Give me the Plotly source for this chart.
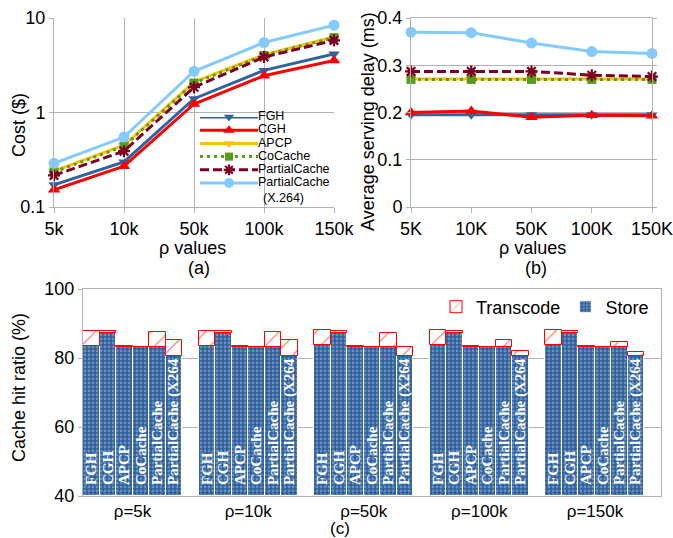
import plotly.graph_objects as go

W, H = 673, 538

# ---------------- data ----------------
methods = ["FGH", "CGH", "APCP", "CoCache", "PartialCache", "PartialCache (X.264)"]
bar_labels = ["FGH", "CGH", "APCP", "CoCache", "PartialCache", "PartialCache (X264"]
rho_cost = ["5k", "10k", "50k", "100k", "150k"]
rho_delay = ["5K", "10K", "50K", "100K", "150K"]
rho_groups = ["ρ=5k", "ρ=10k", "ρ=50k", "ρ=100k", "ρ=150k"]

cost_fgh = [0.172, 0.30, 1.40, 2.79, 4.16]
cost_cgh = [0.152, 0.27, 1.23, 2.45, 3.56]
cost_apcp = [0.240, 0.45, 2.10, 4.10, 6.30]
cost_cocache = [0.235, 0.44, 2.05, 4.02, 6.20]
cost_partial = [0.216, 0.39, 1.85, 3.86, 5.80]
cost_partial_x264 = [0.290, 0.55, 2.73, 5.50, 8.40]

delay_fgh = [0.195, 0.195, 0.195, 0.195, 0.195]
delay_cgh = [0.200, 0.203, 0.190, 0.194, 0.193]
delay_apcp = [0.271, 0.271, 0.271, 0.271, 0.271]
delay_cocache = [0.270, 0.270, 0.270, 0.270, 0.270]
delay_partial = [0.287, 0.287, 0.287, 0.279, 0.276]
delay_partial_x264 = [0.370, 0.369, 0.347, 0.329, 0.325]

store_fgh = [83.6, 83.6, 83.8, 83.8, 83.8]
store_cgh = [87.3, 87.3, 87.3, 87.3, 87.3]
store_apcp = [83.2, 83.2, 83.2, 83.2, 83.2]
store_cocache = [83.3, 83.3, 83.3, 83.3, 83.3]
store_partial = [83.2, 83.2, 83.2, 83.2, 83.2]
store_partial_x264 = [80.7, 80.7, 80.7, 80.7, 80.7]

trans_fgh = [4.2, 4.2, 4.3, 4.3, 4.3]
trans_cgh = [0.5, 0.5, 0.5, 0.5, 0.5]
trans_apcp = [0.4, 0.4, 0.4, 0.4, 0.4]
trans_cocache = [0.0, 0.0, 0.0, 0.0, 0.0]
trans_partial = [4.2, 4.2, 4.1, 2.0, 1.5]
trans_partial_x264 = [4.4, 4.5, 2.6, 1.3, 0.95]

hit_axis_min = 40

costs = [cost_fgh, cost_cgh, cost_apcp, cost_cocache, cost_partial, cost_partial_x264]
delays = [delay_fgh, delay_cgh, delay_apcp, delay_cocache, delay_partial, delay_partial_x264]
stores = [store_fgh, store_cgh, store_apcp, store_cocache, store_partial, store_partial_x264]
transes = [trans_fgh, trans_cgh, trans_apcp, trans_cocache, trans_partial, trans_partial_x264]

# ---------------- styles ----------------
colors = ["#2f64a0", "#ff0000", "#ffc000", "#579d1c", "#7e0021", "#83caff"]
dashes = ["solid", "solid", "solid", "3px,4px", "9px,4px", "solid"]
symbols = ["triangle-down", "triangle-up", "triangle-down", "square", "asterisk-open", "circle"]
msizes = [10, 11, 10, 9, 10, 11]

FONT = "Liberation Sans, Arial, sans-serif"
GRID = "#b3b3b3"

def px_x(p):
    return p / W

def px_y(p):
    return 1 - p / H

fig = go.Figure()

def marker_for(i, size=None):
    s = msizes[i] if size is None else size
    if symbols[i] == "asterisk-open":
        return dict(symbol=symbols[i], size=s, color=colors[i],
                    line=dict(color=colors[i], width=2.2))
    return dict(symbol=symbols[i], size=s, color=colors[i], line=dict(width=0))

# panel (a) cost (log)
xi = list(range(len(rho_cost)))
for i, name in enumerate(methods):
    fig.add_trace(go.Scatter(
        x=xi, y=costs[i], mode="lines+markers", name=name, showlegend=False,
        line=dict(color=colors[i], width=3, dash=dashes[i]),
        marker=marker_for(i), cliponaxis=False, xaxis="x", yaxis="y"))

# panel (b) delay
for i, name in enumerate(methods):
    fig.add_trace(go.Scatter(
        x=xi, y=delays[i], mode="lines+markers", name=name, showlegend=False,
        line=dict(color=colors[i], width=3, dash=dashes[i]),
        marker=marker_for(i), cliponaxis=False, xaxis="x2", yaxis="y2"))

# panel (c) stacked bars (Store drawn up from the axis floor, Transcode on top)
ng, nm = len(rho_groups), len(methods)
bx, sy, ty, tx = [], [], [], []
for g in range(ng):
    for i in range(nm):
        bx.append(g * (nm + 1) + i)
        sy.append(stores[i][g])
        ty.append(transes[i][g])
        tx.append("\u00a0\u00a0" + bar_labels[i])

fig.add_trace(go.Bar(
    x=bx, y=[v - hit_axis_min for v in sy], base=hit_axis_min, name="Store", width=1,
    marker=dict(color="#2e5f9c", line=dict(color="#ffffff", width=1),
                pattern=dict(shape=".", fgcolor="#a7c0e0", bgcolor="#2e5f9c",
                             size=4, solidity=0.4)),
    text=tx, textposition="inside", insidetextanchor="start", textangle=-90,
    constraintext="none",
    textfont=dict(family="Liberation Serif, Times New Roman, serif", size=15,
                  color="#ffffff", weight="bold"),
    hoverinfo="skip", xaxis="x3", yaxis="y3"))
fig.add_trace(go.Bar(
    x=bx, y=ty, base=sy, name="Transcode", width=1,
    marker=dict(color="#ffffff", line=dict(color="#ff0000", width=1),
                pattern=dict(shape="/", fgcolor="#ff0000", bgcolor="#ffffff",
                             size=13, solidity=0.1)),
    xaxis="x3", yaxis="y3"))

# legend for (a)/(b) built as an inset key
KEY_TOP, KEY_STEP, KEY_ROWS = 117.0, 13.2, 6.5       # px of first row, px per row, rows span
KEY_BOTTOM = KEY_TOP + KEY_ROWS * KEY_STEP
rows = list(range(nm))
for i, name in enumerate(methods):
    first = name.split(" ")[0]
    fig.add_trace(go.Scatter(
        x=[0, 0.5, 1], y=[rows[i]] * 3, mode="lines+markers+text", showlegend=False,
        line=dict(color=colors[i], width=3, dash=dashes[i]),
        marker=dict(symbol=symbols[i], size=[0, msizes[i] - 1, 0], color=colors[i],
                    opacity=[0, 1, 0],
                    line=dict(color=colors[i], width=2.2 if symbols[i] == "asterisk-open" else 0)),
        text=["", "", first], textposition="middle right",
        textfont=dict(family=FONT, size=12.5, color="#000000"),
        cliponaxis=False, hoverinfo="skip", xaxis="x4", yaxis="y4"))

bar_count = ng * (nm + 1) - 1

axis_font = dict(family=FONT, size=18, color="#000000")

def key_dom_y(p):
    return (KEY_BOTTOM - p) / (KEY_BOTTOM - KEY_TOP)

fig.update_layout(
    width=W, height=H, autosize=False,
    margin=dict(l=0, r=0, t=0, b=0, pad=0, autoexpand=False),
    paper_bgcolor="#ffffff", plot_bgcolor="#ffffff",
    font=dict(family=FONT, color="#000000"),
    barmode="overlay", bargap=0,
    xaxis=dict(domain=[px_x(54), px_x(334)], range=[0, 4], tickvals=xi, ticktext=rho_cost,
               showgrid=True, gridcolor=GRID, gridwidth=1, zeroline=False,
               showline=True, linecolor=GRID, ticks="outside", ticklen=5, tickcolor=GRID,
               tickfont=axis_font, ticklabeloverflow="allow", anchor="y"),
    yaxis=dict(domain=[px_y(207), px_y(18)], type="log", range=[-1, 1],
               tickvals=[0.1, 1, 10], ticktext=["0.1", "1", "10"],
               showgrid=True, gridcolor=GRID, zeroline=False,
               showline=True, linecolor=GRID, ticks="outside", ticklen=4, tickcolor=GRID,
               tickfont=axis_font, anchor="x"),
    xaxis2=dict(domain=[px_x(411), px_x(652)], range=[0, 4], tickvals=xi, ticktext=rho_delay,
                showgrid=False, zeroline=False, showline=True, mirror=True, linecolor=GRID,
                ticks="outside", ticklen=5, tickcolor=GRID, tickfont=axis_font,
                ticklabeloverflow="allow", anchor="y2"),
    yaxis2=dict(domain=[px_y(207), px_y(18)], range=[0, 0.4], dtick=0.1,
                showgrid=True, gridcolor=GRID, zeroline=False, showline=True, mirror="all",
                linecolor=GRID, ticks="outside", ticklen=4, tickcolor=GRID,
                tickfont=axis_font, anchor="x2"),
    xaxis3=dict(domain=[px_x(83), px_x(661)], range=[-0.5, bar_count + 0.5],
                tickvals=[g * (nm + 1) + (nm - 1) / 2 for g in range(ng)], ticktext=rho_groups,
                showgrid=False, zeroline=False, showline=True, mirror=True, linecolor=GRID,
                ticks="", tickfont=dict(family=FONT, size=17, color="#000000"),
                ticklabeloverflow="allow", anchor="y3"),
    yaxis3=dict(domain=[px_y(496), px_y(289)], range=[hit_axis_min, 100], dtick=20,
                showgrid=True, gridcolor=GRID, zeroline=False, showline=True, mirror=True,
                linecolor=GRID, ticks="outside", ticklen=4, tickcolor=GRID,
                tickfont=axis_font, anchor="x3"),
    xaxis4=dict(domain=[px_x(200), px_x(258)], range=[0, 1], visible=False, fixedrange=True,
                anchor="y4"),
    yaxis4=dict(domain=[px_y(KEY_BOTTOM), px_y(KEY_TOP)], range=[KEY_ROWS, 0], visible=False,
                fixedrange=True, anchor="x4"),
    legend=dict(orientation="h", x=px_x(436), xanchor="left", y=px_y(307), yanchor="middle",
                traceorder="reversed", font=dict(family=FONT, size=18, color="#000000"),
                bgcolor="rgba(0,0,0,0)", borderwidth=0),
    shapes=[dict(type="rect", xref="x4 domain", yref="y4 domain",
                 x0=(197 - 200) / 58, x1=(333 - 200) / 58,
                 y0=key_dom_y(205), y1=key_dom_y(114),
                 fillcolor="#ffffff", line=dict(width=0), layer="below")],
)

def ann(text, x, y, size=18, angle=0, xanchor="center", xref="paper", yref="paper"):
    fig.add_annotation(text=text, x=x, y=y, xref=xref, yref=yref, showarrow=False,
                       textangle=angle, xanchor=xanchor, yanchor="middle",
                       font=dict(family=FONT, size=size, color="#000000"))

ann("Cost ($)", px_x(19), px_y(125), angle=-90)
ann("ρ values", px_x(192), px_y(248))
ann("(a)", px_x(199), px_y(268))
ann("Average serving delay (ms)", px_x(368), px_y(121), angle=-90)
ann("ρ values", px_x(532), px_y(248))
ann("(b)", px_x(536), px_y(268))
ann("Cache hit ratio (%)", px_x(19), px_y(388), angle=-90)
ann("(c)", px_x(340), px_y(528), size=17)

# continuation line of the last key label
last = methods[-1].split(" ", 1)
if len(last) > 1:
    fig.add_annotation(text=last[1], x=1, y=(nm - 1) + 1.12, xref="x4", yref="y4",
                       showarrow=False, xanchor="left", yanchor="middle", xshift=3,
                       font=dict(family=FONT, size=12.5, color="#000000"))

fig.write_html(
    "out.html",
    config={"displayModeBar": False},
    post_script="document.body.style.margin='0px';document.body.style.padding='0px';"
                "document.body.style.overflow='hidden';",
)
